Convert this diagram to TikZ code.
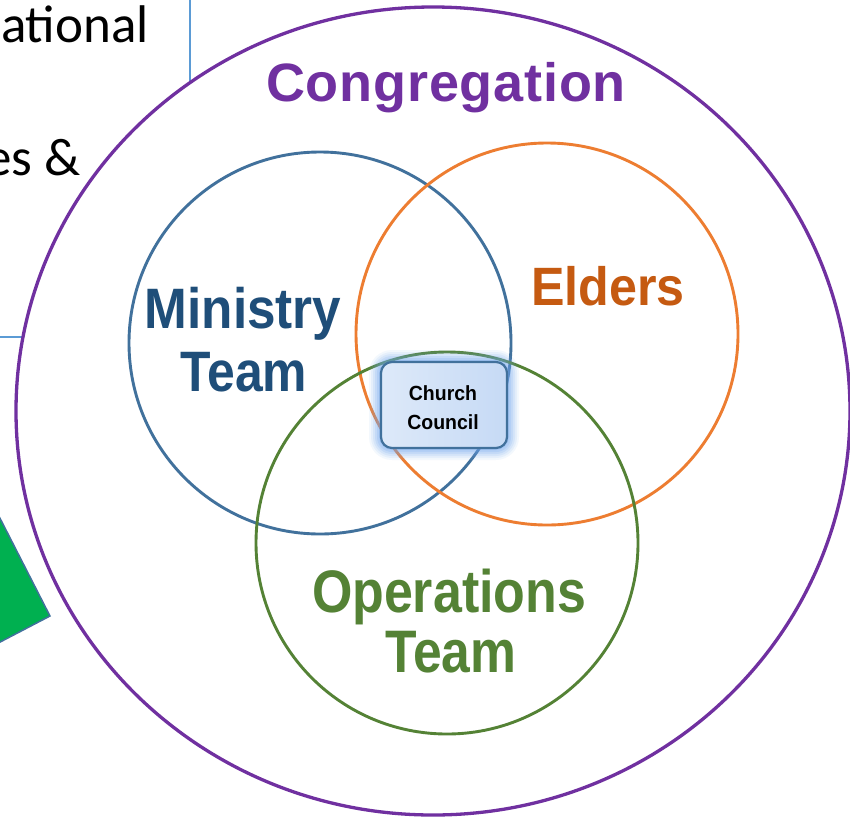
\documentclass[tikz,border=0pt]{standalone}
\usepackage{fontspec}
\setmainfont{Liberation Sans}
\newfontfamily\carl{Carlito}
\newfontfamily\spaced[LetterSpace=1.5]{Liberation Sans}
\usepackage{graphicx}
\definecolor{cpurple}{HTML}{7030A0}
\definecolor{cblue}{HTML}{41719C}
\definecolor{corange}{HTML}{ED7D31}
\definecolor{cgreen}{HTML}{548235}
\definecolor{tblue}{HTML}{1F4E79}
\definecolor{torange}{HTML}{C55A11}
\definecolor{tgreen}{HTML}{548235}
\definecolor{boxblue}{HTML}{5B9BD5}
\definecolor{shapegreen}{HTML}{00B050}
\definecolor{glowblue}{HTML}{6FA6EE}
\definecolor{ccfillA}{HTML}{DDE9F9}
\definecolor{ccfillB}{HTML}{C6DAF5}
\tikzset{
  boxline/.style={draw=boxblue, line width=1.5pt},
  toptext/.style={font=\carl\fontsize{53}{60}\selectfont, inner sep=0pt},
  ring/.style={line width=2.9pt},
  biglabel/.style={font=\bfseries\fontsize{54}{60}\selectfont, inner sep=0pt, anchor=base},
  cclabel/.style={font=\bfseries\fontsize{20.5}{24}\selectfont, inner sep=0pt, anchor=base},
}
\begin{document}
\begin{tikzpicture}[x=1pt,y=-1pt]
\useasboundingbox (0,0) rectangle (850,819);
% text box at the top left
\draw[boxline, fill=white] (-10,-10) rectangle (190,337);
\node[toptext, anchor=base east] (t1) at (149,42) {ational};
\node[toptext, anchor=base east] (t2) at (81,175) {es \&};
% green shape at the left
\draw[fill=shapegreen, draw=cblue, line width=1.5pt] (-40,440) -- (50,616) -- (-40,663) -- cycle;
% congregation
\draw[cpurple, line width=3.3pt, fill=white] (433,411) ellipse [x radius=417, y radius=404];
\node[biglabel, font=\spaced\bfseries\fontsize{54}{60}\selectfont, text=cpurple] (cong) at (446,101) {Congregation};
% three circles
\draw[ring, cblue] (320,343) circle[radius=191];
\draw[ring, corange] (547,334) circle[radius=191];
\draw[ring, cgreen] (447,543) circle[radius=191];
% labels
\node[biglabel, font=\bfseries\fontsize{57}{60}\selectfont, text=tblue] (m1) at (243,328) {\scalebox{0.9}[1]{Ministry}};
\node[biglabel, font=\bfseries\fontsize{57}{60}\selectfont, text=tblue] (m2) at (244,391) {\scalebox{0.875}[1]{Team}};
\node[biglabel, text=torange] (e1) at (608,305) {\scalebox{0.93}[1]{Elders}};
\node[biglabel, font=\bfseries\fontsize{60}{66}\selectfont, text=tgreen] (o1) at (449,612) {\scalebox{0.865}[1]{Operations}};
\node[biglabel, font=\bfseries\fontsize{60}{66}\selectfont, text=tgreen] (o2) at (451,672) {\scalebox{0.86}[1]{Team}};
% glow of church council
\foreach \g/\o in {12/0.08, 10/0.10, 8/0.13, 6/0.16, 4/0.2, 2/0.25}{
  \fill[glowblue, opacity=\o, rounded corners=11+\g] (381-\g,362-\g) rectangle (507+\g,448+\g);
}
\node[draw=cblue, line width=2.2pt, rounded corners=11pt, left color=ccfillA, right color=ccfillB,
      minimum width=126pt, minimum height=86pt, inner sep=0pt] (cc) at (444,405) {};
\node[cclabel] (cc1) at (443,400) {\scalebox{0.95}[1]{Church}};
\node[cclabel] (cc2) at (443,429) {\scalebox{0.95}[1]{Council}};
\end{tikzpicture}
\end{document}
